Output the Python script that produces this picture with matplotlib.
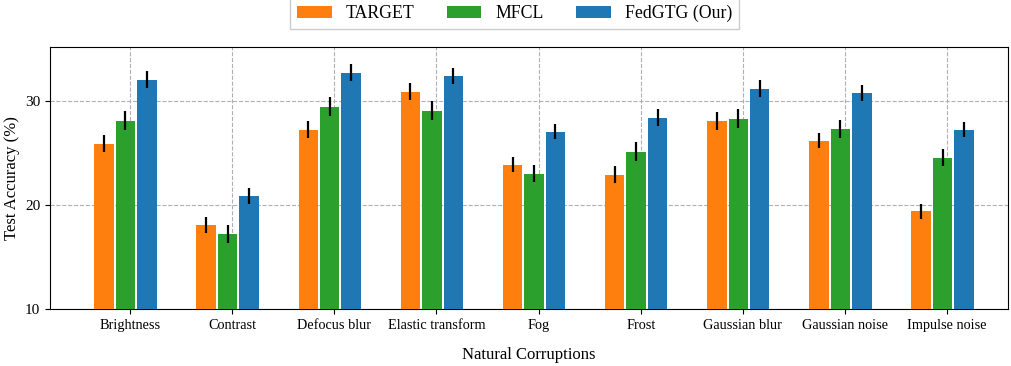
import numpy as np
from matplotlib import pyplot as plt

categories = ["Brightness", "Contrast", "Defocus blur", "Elastic transform", "Fog",
              "Frost", "Gaussian blur", "Gaussian noise", "Impulse noise"]
methods = ["TARGET", "MFCL", "FedGTG (Our)"]

target_acc = [25.87, 18.08, 27.22, 30.86, 23.87, 22.90, 28.08, 26.17, 19.36]
mfcl_acc = [28.08, 17.20, 29.42, 29.04, 23.00, 25.11, 28.27, 27.32, 24.54]
fedgtg_acc = [32.02, 20.87, 32.68, 32.40, 27.03, 28.37, 31.15, 30.77, 27.22]

target_err = [0.80, 0.75, 0.85, 0.80, 0.75, 0.80, 0.85, 0.75, 0.73]
mfcl_err = [0.90, 0.85, 0.91, 0.88, 0.85, 0.90, 0.91, 0.86, 0.81]
fedgtg_err = [0.80, 0.75, 0.83, 0.78, 0.73, 0.81, 0.81, 0.77, 0.72]

colors = ["#ff7f0e", "#2ca02c", "#1f77b4"]

plt.rcParams['font.family'] = ['Liberation Serif', 'DejaVu Serif']

fig = plt.figure(figsize=(10.11, 3.66), dpi=100)
ax = fig.add_axes([0.0495, 0.1557, 0.9475, 0.7159])

x = np.arange(len(categories))
width = 0.19
offsets = [-0.255, -0.045, 0.165]
series = [(target_acc, target_err), (mfcl_acc, mfcl_err), (fedgtg_acc, fedgtg_err)]
for (acc, err), off, c, name in zip(series, offsets, colors, methods):
    ax.bar(x + off, acc, width, color=c, label=name, zorder=3)
    ax.errorbar(x + off, acc, yerr=err, fmt='none', ecolor='black', elinewidth=1.6, zorder=4)

ax.set_xticks(x)
ax.set_xticklabels(categories, fontsize=10.3)
ax.set_xlim(-0.783, 8.595)
ax.set_ylim(10, 35.15)
ax.set_yticks([10, 20, 30])
ax.tick_params(axis='y', labelsize=11)
ax.set_ylabel("Test Accuracy (%)", fontsize=12)
ax.set_xlabel("Natural Corruptions", fontsize=12, labelpad=11)
ax.grid(True, linestyle='--', color='#b0b0b0', linewidth=0.8, zorder=0)
ax.set_axisbelow(True)

fig.legend(loc='upper center', bbox_to_anchor=(0.509, 1.03), ncol=3, fontsize=12.8,
           handlelength=1.95, handletextpad=0.8, columnspacing=1.8, fancybox=False,
           edgecolor='#cccccc', framealpha=1)

fig.savefig("out.png", dpi=100)
